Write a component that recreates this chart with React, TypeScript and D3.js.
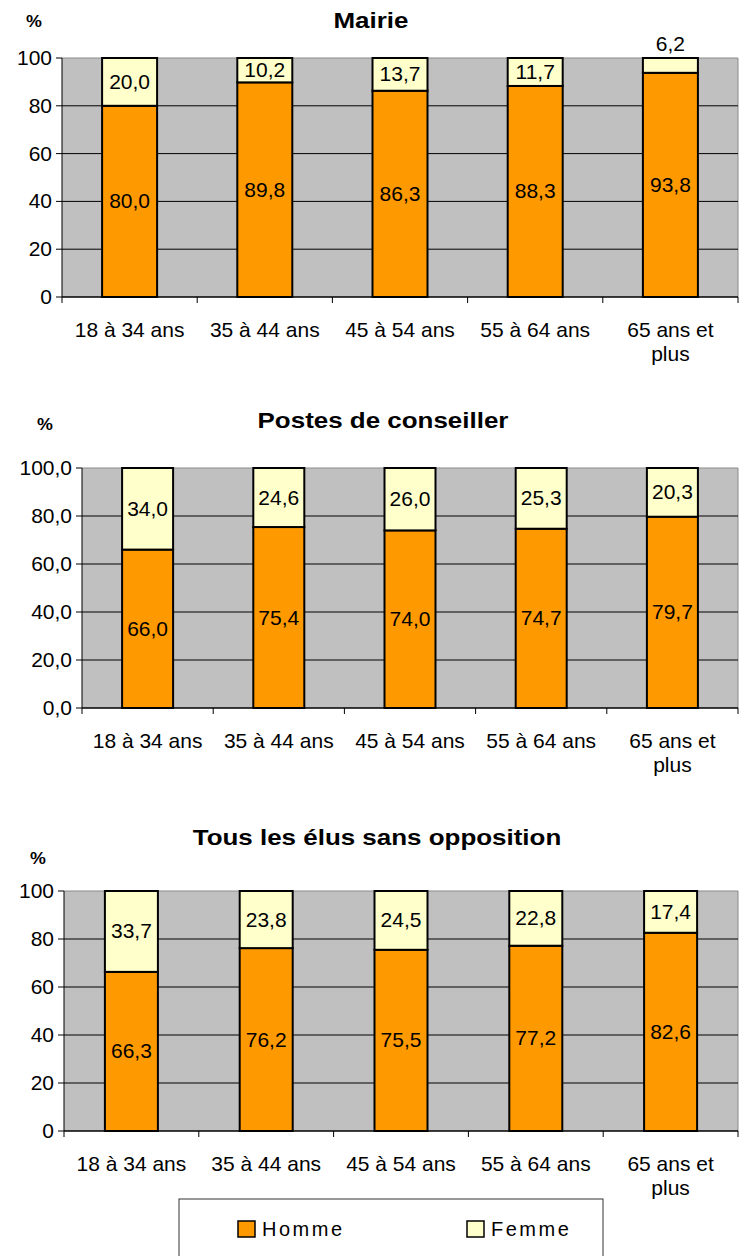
import React from 'react';
import * as d3 from 'd3';

const categories = ['18 à 34 ans', '35 à 44 ans', '45 à 54 ans', '55 à 64 ans', '65 ans et plus'];
const seriesNames = ['Homme', 'Femme'];

const mairieHomme = [80.0, 89.8, 86.3, 88.3, 93.8];
const mairieFemme = [20.0, 10.2, 13.7, 11.7, 6.2];

const conseillerHomme = [66.0, 75.4, 74.0, 74.7, 79.7];
const conseillerFemme = [34.0, 24.6, 26.0, 25.3, 20.3];

const tousHomme = [66.3, 76.2, 75.5, 77.2, 82.6];
const tousFemme = [33.7, 23.8, 24.5, 22.8, 17.4];

const yTicks = [0, 20, 40, 60, 80, 100];

const ORANGE = '#FF9900';
const YELLOW = '#FFFFCC';
const GRAY = '#C0C0C0';
const FONT = 'Arial, "Liberation Sans", sans-serif';

const fmt = (v: number) => v.toFixed(1).replace('.', ',');

// text slightly stretched horizontally, like the source image
const Label = ({ x, y, children, anchor = 'middle', size = 20, sx = 1.05, bold = false, dy = '0' }: any) => (
  <text transform={`translate(${x},${y}) scale(${sx},1)`} dy={dy} textAnchor={anchor} fontSize={size}
    fontWeight={bold ? 'bold' : 'normal'} fontFamily={FONT} fill="#000">{children}</text>
);

type PanelProps = {
  title: string;
  titleX: number;
  titleY: number;
  pctX: number;
  pctY: number;
  homme: number[];
  femme: number[];
  left: number;
  top: number;
  bottom: number;
  barWidth: number;
  tickFmt: (v: number) => string;
};

const Panel = ({ title, titleX, titleY, pctX, pctY, homme, femme, left, top, bottom, barWidth, tickFmt }: PanelProps) => {
  const right = 738;
  const x = d3.scaleBand().domain(categories).range([left, right]).paddingInner(0).paddingOuter(0);
  const y = d3.scaleLinear().domain([0, 100]).range([bottom, top]);
  const bw = x.bandwidth();

  return (
    <g>
      <Label x={pctX} y={pctY} size={17} bold sx={1.05}>%</Label>
      <Label x={titleX} y={titleY} size={22} bold sx={1.18}>{title}</Label>
      <rect x={left} y={top} width={right - left} height={bottom - top} fill={GRAY} />
      <line x1={left} x2={right} y1={top} y2={top} stroke="#8a8a8a" strokeWidth={1} />
      <line x1={right} x2={right} y1={top} y2={bottom} stroke="#8a8a8a" strokeWidth={1} />
      {yTicks.map((t) => (
        <g key={t}>
          {t > 0 && t < 100 && (
            <line x1={left} x2={right} y1={y(t)} y2={y(t)} stroke="#000" strokeWidth={1} />
          )}
          <line x1={left - 6} x2={left} y1={y(t)} y2={y(t)} stroke="#000" strokeWidth={1} />
          <Label x={left - 10} y={y(t)} dy="0.35em" anchor="end">{tickFmt(t)}</Label>
        </g>
      ))}
      <line x1={left} x2={left} y1={top} y2={bottom} stroke="#000" strokeWidth={1} />
      <line x1={left} x2={right} y1={bottom} y2={bottom} stroke="#000" strokeWidth={1.5} />
      {categories.map((c, i) => (
        <line key={'t' + i} x1={x(c) as number} x2={x(c) as number} y1={bottom} y2={bottom + 6} stroke="#000" strokeWidth={1} />
      ))}
      <line x1={right} x2={right} y1={bottom} y2={bottom + 6} stroke="#000" strokeWidth={1} />
      {categories.map((c, i) => {
        const cx = (x(c) as number) + bw / 2;
        const x0 = cx - barWidth / 2;
        const h = homme[i];
        const f = femme[i];
        const fTop = y(h + f);
        const fBot = y(h);
        const femInside = fBot - fTop > 20;
        return (
          <g key={c}>
            <rect x={x0} y={y(h)} width={barWidth} height={bottom - y(h)} fill={ORANGE} stroke="#000" strokeWidth={2} />
            <rect x={x0} y={fTop} width={barWidth} height={fBot - fTop} fill={YELLOW} stroke="#000" strokeWidth={2} />
            <Label x={cx} y={(y(h) + bottom) / 2} dy="0.35em">{fmt(h)}</Label>
            <Label x={cx} y={femInside ? (fTop + fBot) / 2 : fTop - 14} dy="0.35em">{fmt(f)}</Label>
          </g>
        );
      })}
      {categories.map((c) => {
        const cx = (x(c) as number) + bw / 2;
        const parts = c === '65 ans et plus' ? ['65 ans et', 'plus'] : [c];
        return parts.map((p, j) => (
          <Label key={c + j} x={cx} y={bottom + 40 + j * 24}>{p}</Label>
        ));
      })}
    </g>
  );
};

const App = () => {
  return (
    <svg width={742} height={1256} style={{ position: 'absolute', left: 0, top: 0 }}>
      <rect width={742} height={1256} fill="#fff" />
      <Panel title="Mairie" titleX={371} titleY={28} pctX={34} pctY={27} homme={mairieHomme} femme={mairieFemme}
        left={62} top={58} bottom={297} barWidth={55} tickFmt={(v) => String(v)} />
      <Panel title="Postes de conseiller" titleX={383} titleY={428} pctX={45} pctY={430} homme={conseillerHomme} femme={conseillerFemme}
        left={82} top={468} bottom={708} barWidth={51} tickFmt={(v) => fmt(v)} />
      <Panel title="Tous les élus sans opposition" titleX={377} titleY={845} pctX={38} pctY={864} homme={tousHomme} femme={tousFemme}
        left={64} top={891} bottom={1131} barWidth={53} tickFmt={(v) => String(v)} />
      <g>
        <rect x={179} y={1199} width={424} height={80} fill="#fff" stroke="#333" strokeWidth={1} />
        {seriesNames.map((s, i) => {
          const lx = i === 0 ? 238 : 467;
          return (
            <g key={s}>
              <rect x={lx} y={1221} width={17} height={16} fill={i === 0 ? ORANGE : YELLOW} stroke="#000" strokeWidth={1.5} />
              <text x={lx + 24} y={1236} fontSize={20} letterSpacing={2.5} fontFamily={FONT}>{s}</text>
            </g>
          );
        })}
      </g>
    </svg>
  );
};

export default App;
